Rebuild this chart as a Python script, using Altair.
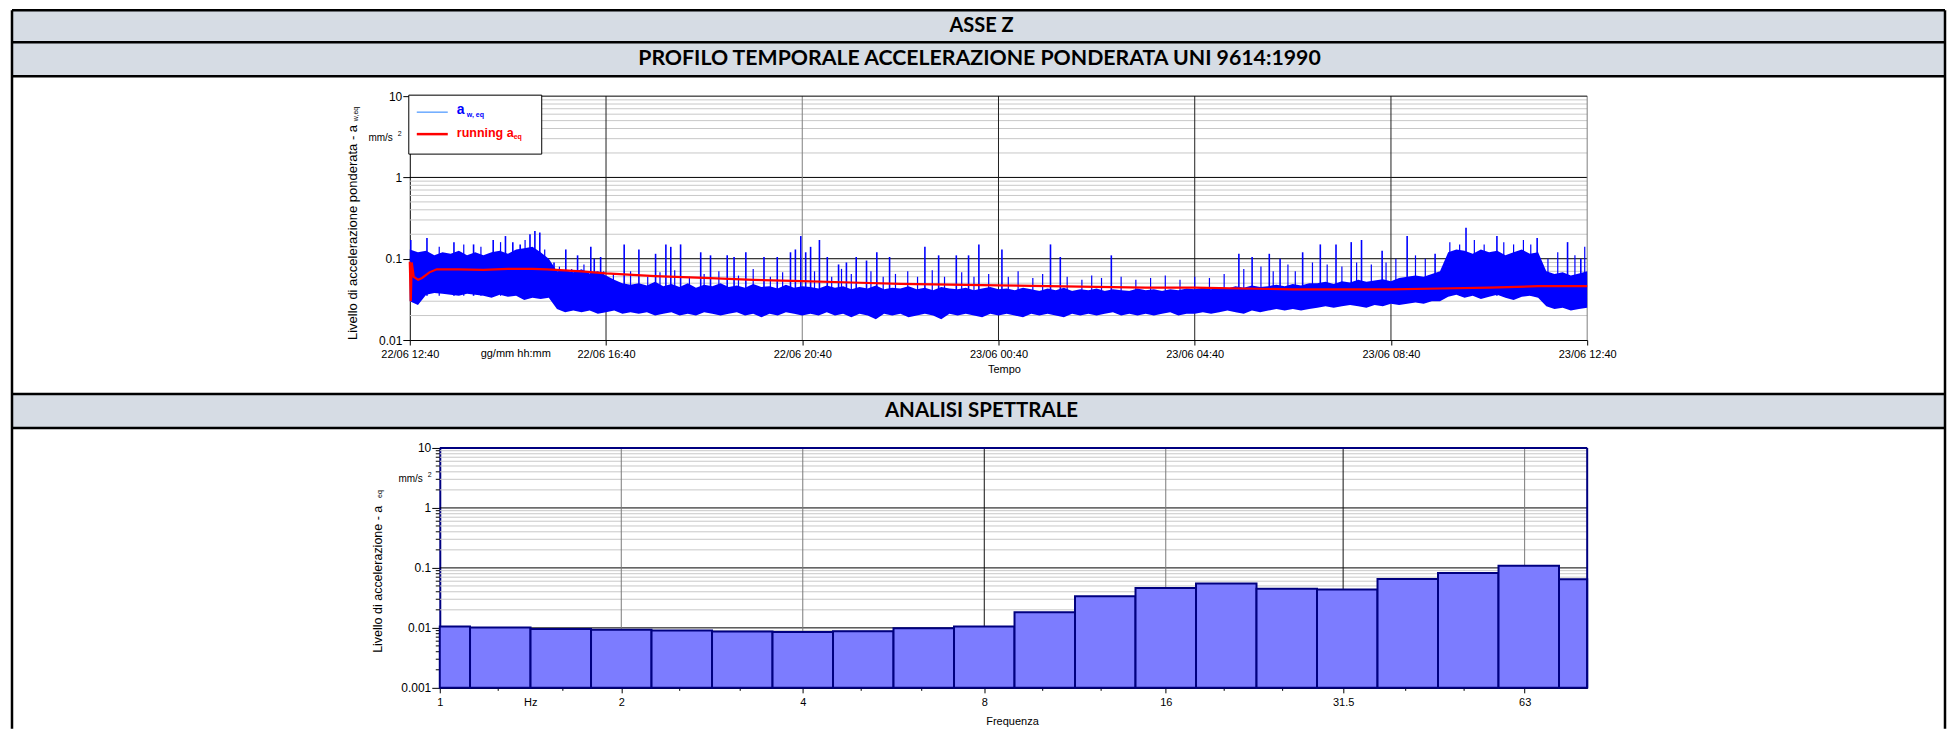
import altair as alt
import pandas as pd

# ---------------- time profile (hours after 22/06 12:40) ----------------
tick_hours = [0, 4, 8, 12, 16, 20, 24]
tick_labels_time = ["22/06 12:40", "22/06 16:40", "22/06 20:40", "23/06 00:40",
                    "23/06 04:40", "23/06 08:40", "23/06 12:40"]

# envelope of the dense a_w,eq signal, one value every 10 minutes (145 samples)
band_hi = [0.13, 0.12, 0.125, 0.11, 0.12, 0.115, 0.125, 0.11, 0.12, 0.11, 0.12, 0.125, 0.115, 0.13,
           0.135, 0.14, 0.12, 0.10, 0.07, 0.072, 0.068, 0.074, 0.066, 0.07, 0.062, 0.055, 0.05, 0.048,
           0.05, 0.047, 0.052, 0.046, 0.049, 0.045, 0.05, 0.044, 0.048, 0.046, 0.05, 0.045, 0.047, 0.044,
           0.049, 0.045, 0.046, 0.043, 0.048, 0.044, 0.046,
           0.045, 0.043, 0.047, 0.044, 0.046, 0.042, 0.045, 0.043, 0.047, 0.042, 0.044, 0.043, 0.046,
           0.042, 0.044, 0.041, 0.045, 0.043, 0.042, 0.044, 0.041, 0.043, 0.045, 0.042,
           0.043, 0.041, 0.044, 0.042, 0.04, 0.043, 0.041, 0.044, 0.04, 0.042, 0.041, 0.043, 0.04,
           0.042, 0.041, 0.04, 0.043, 0.041, 0.042, 0.04, 0.042, 0.041, 0.043, 0.042,
           0.044, 0.042, 0.045, 0.043, 0.046, 0.044, 0.047, 0.045, 0.046, 0.048, 0.046, 0.049, 0.047, 0.05,
           0.05, 0.052, 0.049, 0.053, 0.051, 0.055, 0.052, 0.054, 0.056, 0.053, 0.058, 0.06,
           0.062, 0.06, 0.065, 0.07,
           0.12, 0.13, 0.125, 0.115, 0.13, 0.12, 0.125, 0.11, 0.12, 0.13, 0.115, 0.12,
           0.07, 0.065, 0.068, 0.062, 0.066, 0.07]
band_lo = [0.03, 0.027, 0.036, 0.038, 0.037, 0.036, 0.035, 0.037, 0.036, 0.035, 0.033, 0.036, 0.034,
           0.035, 0.031, 0.033, 0.032, 0.033,
           0.024, 0.022, 0.023, 0.022, 0.023, 0.021, 0.022, 0.023, 0.021, 0.022,
           0.021, 0.022, 0.02, 0.021, 0.022, 0.02, 0.021, 0.02, 0.022, 0.021, 0.02, 0.021, 0.022, 0.02,
           0.021, 0.019, 0.021, 0.02, 0.022, 0.021, 0.02,
           0.021, 0.02, 0.022, 0.02, 0.021, 0.019, 0.021, 0.02, 0.018, 0.021, 0.02, 0.021, 0.019, 0.02,
           0.021, 0.02, 0.018, 0.021, 0.02, 0.021, 0.02, 0.019, 0.021, 0.02,
           0.021, 0.02, 0.019, 0.021, 0.02, 0.021, 0.02, 0.019, 0.021, 0.02, 0.021, 0.02, 0.021, 0.022,
           0.02, 0.021, 0.02, 0.021, 0.02, 0.021, 0.022, 0.02, 0.021, 0.021,
           0.022, 0.021, 0.022, 0.023, 0.022, 0.021, 0.023, 0.022, 0.023, 0.024, 0.023, 0.024, 0.023, 0.024,
           0.025, 0.026, 0.025, 0.026, 0.027, 0.026, 0.025, 0.027, 0.026, 0.028, 0.027, 0.028,
           0.029, 0.028, 0.03, 0.03,
           0.034, 0.036, 0.033, 0.035, 0.032, 0.034, 0.036, 0.033, 0.031, 0.034, 0.035, 0.033,
           0.026, 0.024, 0.025, 0.023, 0.024, 0.025]
band_t = [i / 6 for i in range(len(band_hi))]

# tall isolated peaks above the band
spike_t = [0.02, 0.35, 0.9, 1.3, 1.7, 1.95, 2.1, 2.25, 2.45, 2.55, 2.65, 2.84, 2.94, 3.18, 3.42, 3.69,
           3.76, 3.89, 4.37, 4.67, 5.01, 5.22, 5.32, 5.52, 5.93, 6.13, 6.47, 6.61, 6.85, 7.22, 7.49, 7.76,
           7.86, 7.97, 8.07, 8.17, 8.35, 8.51, 8.74, 8.9, 9.1, 9.31, 9.52, 9.78, 10.5, 10.78, 11.14, 11.39,
           11.6, 12.07, 13.06, 13.26, 14.3, 16.9, 17.17, 17.52, 17.74, 18.2, 18.56, 18.88, 19.19, 19.4,
           19.82, 20.33, 20.9, 21.53, 22.16, 22.98, 23.6, 23.87]
spike_v = [0.17, 0.18, 0.16, 0.15, 0.17, 0.19, 0.16, 0.15, 0.2, 0.22, 0.21, 0.085, 0.09, 0.13, 0.11, 0.14,
           0.10, 0.105, 0.15, 0.13, 0.115, 0.15, 0.14, 0.15, 0.12, 0.11, 0.11, 0.105, 0.12, 0.105, 0.105, 0.12,
           0.13, 0.19, 0.12, 0.14, 0.17, 0.105, 0.085, 0.09, 0.105, 0.095, 0.12, 0.105, 0.14, 0.11, 0.11, 0.11,
           0.15, 0.13, 0.15, 0.105, 0.11, 0.115, 0.105, 0.115, 0.1, 0.12, 0.15, 0.15, 0.16, 0.17,
           0.125, 0.19, 0.115, 0.24, 0.19, 0.18, 0.16, 0.1]

# smaller peaks that make the ragged top of the band
small_t = [0.6, 1.1, 1.45, 1.85, 2.35, 2.75,
           3.05, 3.3, 3.55, 3.95, 4.15, 4.5, 4.85, 5.1, 5.4, 5.7, 6.0, 6.3, 6.7, 7.0, 7.35, 7.6,
           8.25, 8.6, 8.8, 9.0, 9.4, 9.65, 9.9, 10.15, 10.35, 10.65, 10.9, 11.25, 11.5, 11.8,
           12.2, 12.4, 12.7, 12.9, 13.4, 13.7, 13.9, 14.1, 14.5, 14.8, 15.1, 15.4, 15.7, 16.0, 16.3, 16.6,
           17.0, 17.35, 17.6, 17.9, 18.05, 18.4, 18.7, 19.0, 19.3, 19.6, 19.9, 20.1, 20.5, 20.7,
           21.2, 21.4, 21.7, 21.9, 22.3, 22.5, 22.7, 22.85,
           23.2, 23.4, 23.75, 23.95]
small_v = [0.14, 0.15, 0.14, 0.16, 0.17, 0.13,
           0.08, 0.075, 0.085, 0.07, 0.065, 0.07, 0.06, 0.068, 0.072, 0.06, 0.065, 0.07, 0.062, 0.075, 0.06, 0.068,
           0.07, 0.06, 0.075, 0.065, 0.07, 0.06, 0.065, 0.07, 0.06, 0.072, 0.06, 0.068, 0.06, 0.065,
           0.06, 0.07, 0.058, 0.065, 0.06, 0.055, 0.062, 0.058, 0.06, 0.055, 0.058, 0.062, 0.055, 0.06, 0.058, 0.065,
           0.075, 0.08, 0.07, 0.085, 0.07, 0.09, 0.085, 0.08, 0.09, 0.085, 0.09, 0.1, 0.11, 0.1,
           0.16, 0.15, 0.17, 0.15, 0.16, 0.15, 0.17, 0.15,
           0.1, 0.12, 0.11, 0.14]

# running a_eq
run_t = [0, 0.02, 0.04, 0.08, 0.17, 0.25, 0.4, 0.55, 1.0, 1.5, 2.0, 2.5, 2.8, 3.5, 4.0, 5.0, 6.0, 7.0,
         8.0, 9.0, 10.0, 11.0, 12.0, 13.0, 14.0, 15.0, 16.0, 17.0, 18.0, 19.0, 20.0, 21.0, 22.0, 23.0, 24.0]
run_v = [0.092, 0.03, 0.09, 0.06, 0.055, 0.058, 0.068, 0.074, 0.074, 0.073, 0.075, 0.075, 0.074, 0.07,
         0.066, 0.061, 0.058, 0.055, 0.053, 0.051, 0.049, 0.048, 0.047, 0.046, 0.045, 0.044, 0.044, 0.043,
         0.042, 0.042, 0.042, 0.043, 0.044, 0.046, 0.046]

grid_minor_top = [0.02, 0.03, 0.04, 0.05, 0.06, 0.07, 0.08, 0.09,
                  0.2, 0.3, 0.4, 0.5, 0.6, 0.7, 0.8, 0.9,
                  2, 3, 4, 5, 6, 7, 8, 9]
grid_major_top = [0.1, 1]
decades_top = [0.01, 0.1, 1, 10]

# ---------------- 1/3 octave spectrum ----------------
freq_labels = ["1", "1.25", "1.6", "2", "2.5", "3.15", "4", "5", "6.3", "8", "10", "12.5", "16", "20",
               "25", "31.5", "40", "50", "63", "80"]
spec_v = [0.0105, 0.0101, 0.0096, 0.0093, 0.0090, 0.0087, 0.0085, 0.0088, 0.0099, 0.0105, 0.0182,
          0.0337, 0.0464, 0.0548, 0.0447, 0.0435, 0.0656, 0.0826, 0.109, 0.0647]
freq_ticks = [1, 2, 4, 8, 16, 31.5, 63]
freq_minor = [1.25, 1.6, 2.5, 3.15, 5, 6.3, 10, 12.5, 20, 25, 40, 50]
grid_minor_bot = [0.002, 0.003, 0.004, 0.005, 0.006, 0.007, 0.008, 0.009,
                  0.02, 0.03, 0.04, 0.05, 0.06, 0.07, 0.08, 0.09,
                  0.2, 0.3, 0.4, 0.5, 0.6, 0.7, 0.8, 0.9,
                  2, 3, 4, 5, 6, 7, 8, 9]
grid_major_bot = [0.01, 0.1, 1]
decades_bot = [0.001, 0.01, 0.1, 1, 10]
vgrid_dark = [8, 31.5]
vgrid_grey = [2, 4, 16, 63]

# ---------------- styling / helpers ----------------
FONT_N = "Liberation Sans Narrow, Arial Narrow, Liberation Sans, Arial, sans-serif"
FONT_R = "Liberation Sans, Arial, sans-serif"
HFONT = "Lato, sans-serif"
BAND = "#D6DCE4"
W, H1, H2 = 1178, 244, 240
LB, RB = -398, 1536

one = pd.DataFrame({"k": [0]})


def rule_h(x1, x2, y, color="black", w=2.5):
    return alt.Chart(one).mark_rule(color=color, strokeWidth=w).encode(
        x=alt.value(x1), x2=alt.value(x2), y=alt.value(y))


def rule_v(x, y1, y2, color="black", w=2.5):
    return alt.Chart(one).mark_rule(color=color, strokeWidth=w).encode(
        x=alt.value(x), y=alt.value(y1), y2=alt.value(y2))


def box(x1, x2, y1, y2, fill, stroke=None, sw=1):
    kw = dict(fill=fill)
    if stroke:
        kw.update(stroke=stroke, strokeWidth=sw)
    return alt.Chart(one).mark_rect(**kw).encode(
        x=alt.value(x1), x2=alt.value(x2), y=alt.value(y1), y2=alt.value(y2))


def txt(s, x, y, size=11, font=FONT_R, color="black", bold=False, align="center", angle=None,
        baseline="middle"):
    kw = dict(text=s, fontSize=size, font=font, color=color, align=align, baseline=baseline)
    if bold:
        kw["fontWeight"] = "bold"
    if angle is not None:
        kw["angle"] = angle
    return alt.Chart(one).mark_text(**kw).encode(x=alt.value(x), y=alt.value(y))


# ---------------- top panel ----------------
xs1 = alt.Scale(domain=[0, 24], nice=False, zero=False)
ys1 = alt.Scale(type="log", domain=[0.01, 10], nice=False)
lab_expr = "[" + ",".join("'%s'" % s for s in tick_labels_time) + "][round(datum.value/4)]"
x_axis1 = alt.Axis(values=tick_hours, labelExpr=lab_expr, title=None, grid=False, tickSize=5,
                   tickColor="black", domainColor="black", labelFont=FONT_N, labelFontSize=11,
                   labelPadding=3, labelColor="black", labelFlush=False, labelOverlap=False)
y_axis1 = alt.Axis(values=decades_top, format="~g", title=None, grid=False, tickSize=7,
                   tickColor="black", domainColor="black", labelFont=FONT_N, labelFontSize=12,
                   labelPadding=1, labelColor="black", labelFlush=False, labelOverlap=False)


def X1(f):
    return alt.X(f, type="quantitative", scale=xs1, axis=x_axis1)


def Y1(f):
    return alt.Y(f, type="quantitative", scale=ys1, axis=y_axis1)


band_df = pd.DataFrame({"t": band_t, "lo": band_lo, "hi": band_hi})
spk_df = pd.DataFrame({"t": spike_t, "peak": spike_v})
small_df = pd.DataFrame({"t": small_t, "peak": small_v})
run_df = pd.DataFrame({"t": run_t, "v": run_v})

top_layers = [
    box(LB, RB, -86, -20, BAND),
    alt.Chart(pd.DataFrame({"v": grid_minor_top})).mark_rule(color="#C8C8C8", strokeWidth=1).encode(
        y=Y1("v")),
    alt.Chart(pd.DataFrame({"v": grid_major_top})).mark_rule(color="black", strokeWidth=1).encode(
        y=Y1("v")),
    alt.Chart(pd.DataFrame({"t": [4, 12, 16, 20]})).mark_rule(color="#202020", strokeWidth=1).encode(
        x=X1("t")),
    alt.Chart(pd.DataFrame({"t": [8, 24]})).mark_rule(color="#808080", strokeWidth=1).encode(
        x=X1("t")),
    alt.Chart(band_df).mark_area(color="#0000FF", opacity=1).encode(
        x=X1("t"), y=Y1("lo"), y2="hi:Q"),
    alt.Chart(small_df).mark_rule(color="#0000FF", strokeWidth=1.2).encode(
        x=X1("t"), y=Y1("peak"), y2=alt.Y2Datum(0.035)),
    alt.Chart(spk_df).mark_rule(color="#0000FF", strokeWidth=1.6).encode(
        x=X1("t"), y=Y1("peak"), y2=alt.Y2Datum(0.035)),
    alt.Chart(run_df).mark_line(color="#FF0000", strokeWidth=2.2).encode(
        x=X1("t"), y=Y1("v")),
    rule_h(0, W, 0, "black", 1),
    # legend
    box(-1, 132, -1, 58, "white", "black", 1),
    rule_h(7, 38, 16, "#2080FF", 1),
    txt("a", 47, 14, 14, FONT_R, "#0000FF", True, "left"),
    txt("w, eq", 57, 19, 7, FONT_R, "#0000FF", True, "left"),
    rule_h(7, 38, 38, "#FF0000", 2.5),
    txt("running a", 47, 37, 12.5, FONT_R, "#FF0000", True, "left"),
    txt("eq", 104, 41, 7, FONT_R, "#FF0000", True, "left"),
    # units and titles
    txt("mm/s", -17, 42, 10, FONT_N, "black", False, "right"),
    txt("2", -12, 38, 7, FONT_R, "black", False, "left"),
    txt("Livello di accelerazione ponderata - a", -57, 244, 13, FONT_R, "black", False, "left", 270),
    txt("w,eq", -54, 25, 7, FONT_R, "black", False, "left", 270),
    txt("gg/mm hh:mm", 106, 258, 11, FONT_N),
    txt("Tempo", 595, 274, 11, FONT_N),
    # table
    txt("ASSE Z", 572, -70, 20, HFONT, "black", True),
    txt("PROFILO TEMPORALE ACCELERAZIONE PONDERATA UNI 9614:1990", 570, -37, 21.3, HFONT, "black", True),
    rule_h(LB, RB, -86),
    rule_h(LB, RB, -54),
    rule_h(LB, RB, -20),
    rule_v(LB, -86, 298),
    rule_v(RB, -86, 298),
]
top = alt.layer(*top_layers).properties(width=W, height=H1)

# ---------------- bottom panel ----------------
centres_idx = list(range(len(spec_v)))
lo_edge = [max(1.0, 2 ** ((i - 0.5) / 3)) for i in centres_idx]
hi_edge = [min(80.0, 2 ** ((i + 0.5) / 3)) for i in centres_idx]
spec_df = pd.DataFrame({"band": freq_labels, "f1": lo_edge, "f2": hi_edge, "v": spec_v})

xs2 = alt.Scale(type="log", base=2, domain=[1, 80], range=[30, W], nice=False)
ys2 = alt.Scale(type="log", domain=[0.001, 10], nice=False)
x_axis2 = alt.Axis(values=freq_ticks, format="~g", title=None, grid=False, tickSize=5,
                   tickColor="black", domainColor="black", domainWidth=1.5, labelFont=FONT_N,
                   labelFontSize=11, labelPadding=4, labelColor="black", labelFlush=False,
                   labelOverlap=False)
y_axis2 = alt.Axis(values=decades_bot, format="~g", title=None, grid=False, tickSize=8, offset=-30,
                   tickColor="black", domainColor="#000080", domainWidth=2, labelFont=FONT_N,
                   labelFontSize=12, labelPadding=1, labelColor="black", labelFlush=False,
                   labelOverlap=False)


def X2(f):
    return alt.X(f, type="quantitative", scale=xs2, axis=x_axis2)


def Y2(f):
    return alt.Y(f, type="quantitative", scale=ys2, axis=y_axis2)


bot_layers = [
    box(LB, RB, -54, -20, BAND),
    alt.Chart(pd.DataFrame({"v": grid_minor_bot})).mark_rule(color="#C8C8C8", strokeWidth=1).encode(
        y=Y2("v"), x=alt.value(30), x2=alt.value(W)),
    alt.Chart(pd.DataFrame({"v": grid_major_bot})).mark_rule(color="black", strokeWidth=1).encode(
        y=Y2("v"), x=alt.value(30), x2=alt.value(W)),
    alt.Chart(pd.DataFrame({"f": vgrid_dark})).mark_rule(color="#101010", strokeWidth=1).encode(
        x=X2("f")),
    alt.Chart(pd.DataFrame({"f": vgrid_grey})).mark_rule(color="#7A7A7A", strokeWidth=1).encode(
        x=X2("f")),
    # minor ticks
    alt.Chart(pd.DataFrame({"v": grid_minor_bot})).mark_rule(color="black", strokeWidth=1).encode(
        y=Y2("v"), x=alt.value(26), x2=alt.value(30)),
    alt.Chart(pd.DataFrame({"f": freq_minor})).mark_rule(color="black", strokeWidth=1).encode(
        x=X2("f"), y=alt.value(H2), y2=alt.value(H2 + 3)),
    alt.Chart(spec_df).mark_rect(fill="#7C7CFF", stroke="#000080", strokeWidth=2).encode(
        x=X2("f1"), x2="f2:Q", y=Y2("v"), y2=alt.value(H2)),
    rule_h(30, W, 0, "#000080", 2),
    rule_v(W, 0, H2, "#000080", 2),
    txt("Hz", 121, 255, 11, FONT_N),
    txt("mm/s", 13, 31, 10, FONT_N, "black", False, "right"),
    txt("2", 18, 27, 7, FONT_R, "black", False, "left"),
    txt("Livello di accelerazione - a", -32, 205, 12.5, FONT_R, "black", False, "left", 270),
    txt("eq", -30, 50, 7, FONT_R, "black", False, "left", 270),
    txt("Frequenza", 603, 274, 11, FONT_N),
    txt("ANALISI SPETTRALE", 572, -37, 20.5, HFONT, "black", True),
    rule_h(LB, RB, -54),
    rule_h(LB, RB, -20),
    rule_v(LB, -54, 281),
    rule_v(RB, -54, 281),
]
bottom = alt.layer(*bot_layers).properties(width=W, height=H2)

chart = alt.vconcat(top, bottom, spacing=108, bounds="flush").properties(
    padding={"left": 2, "top": 0, "right": 0, "bottom": 0}
).configure_view(stroke=None)

chart.save("out.html", embed_options={"renderer": "svg", "actions": False})
